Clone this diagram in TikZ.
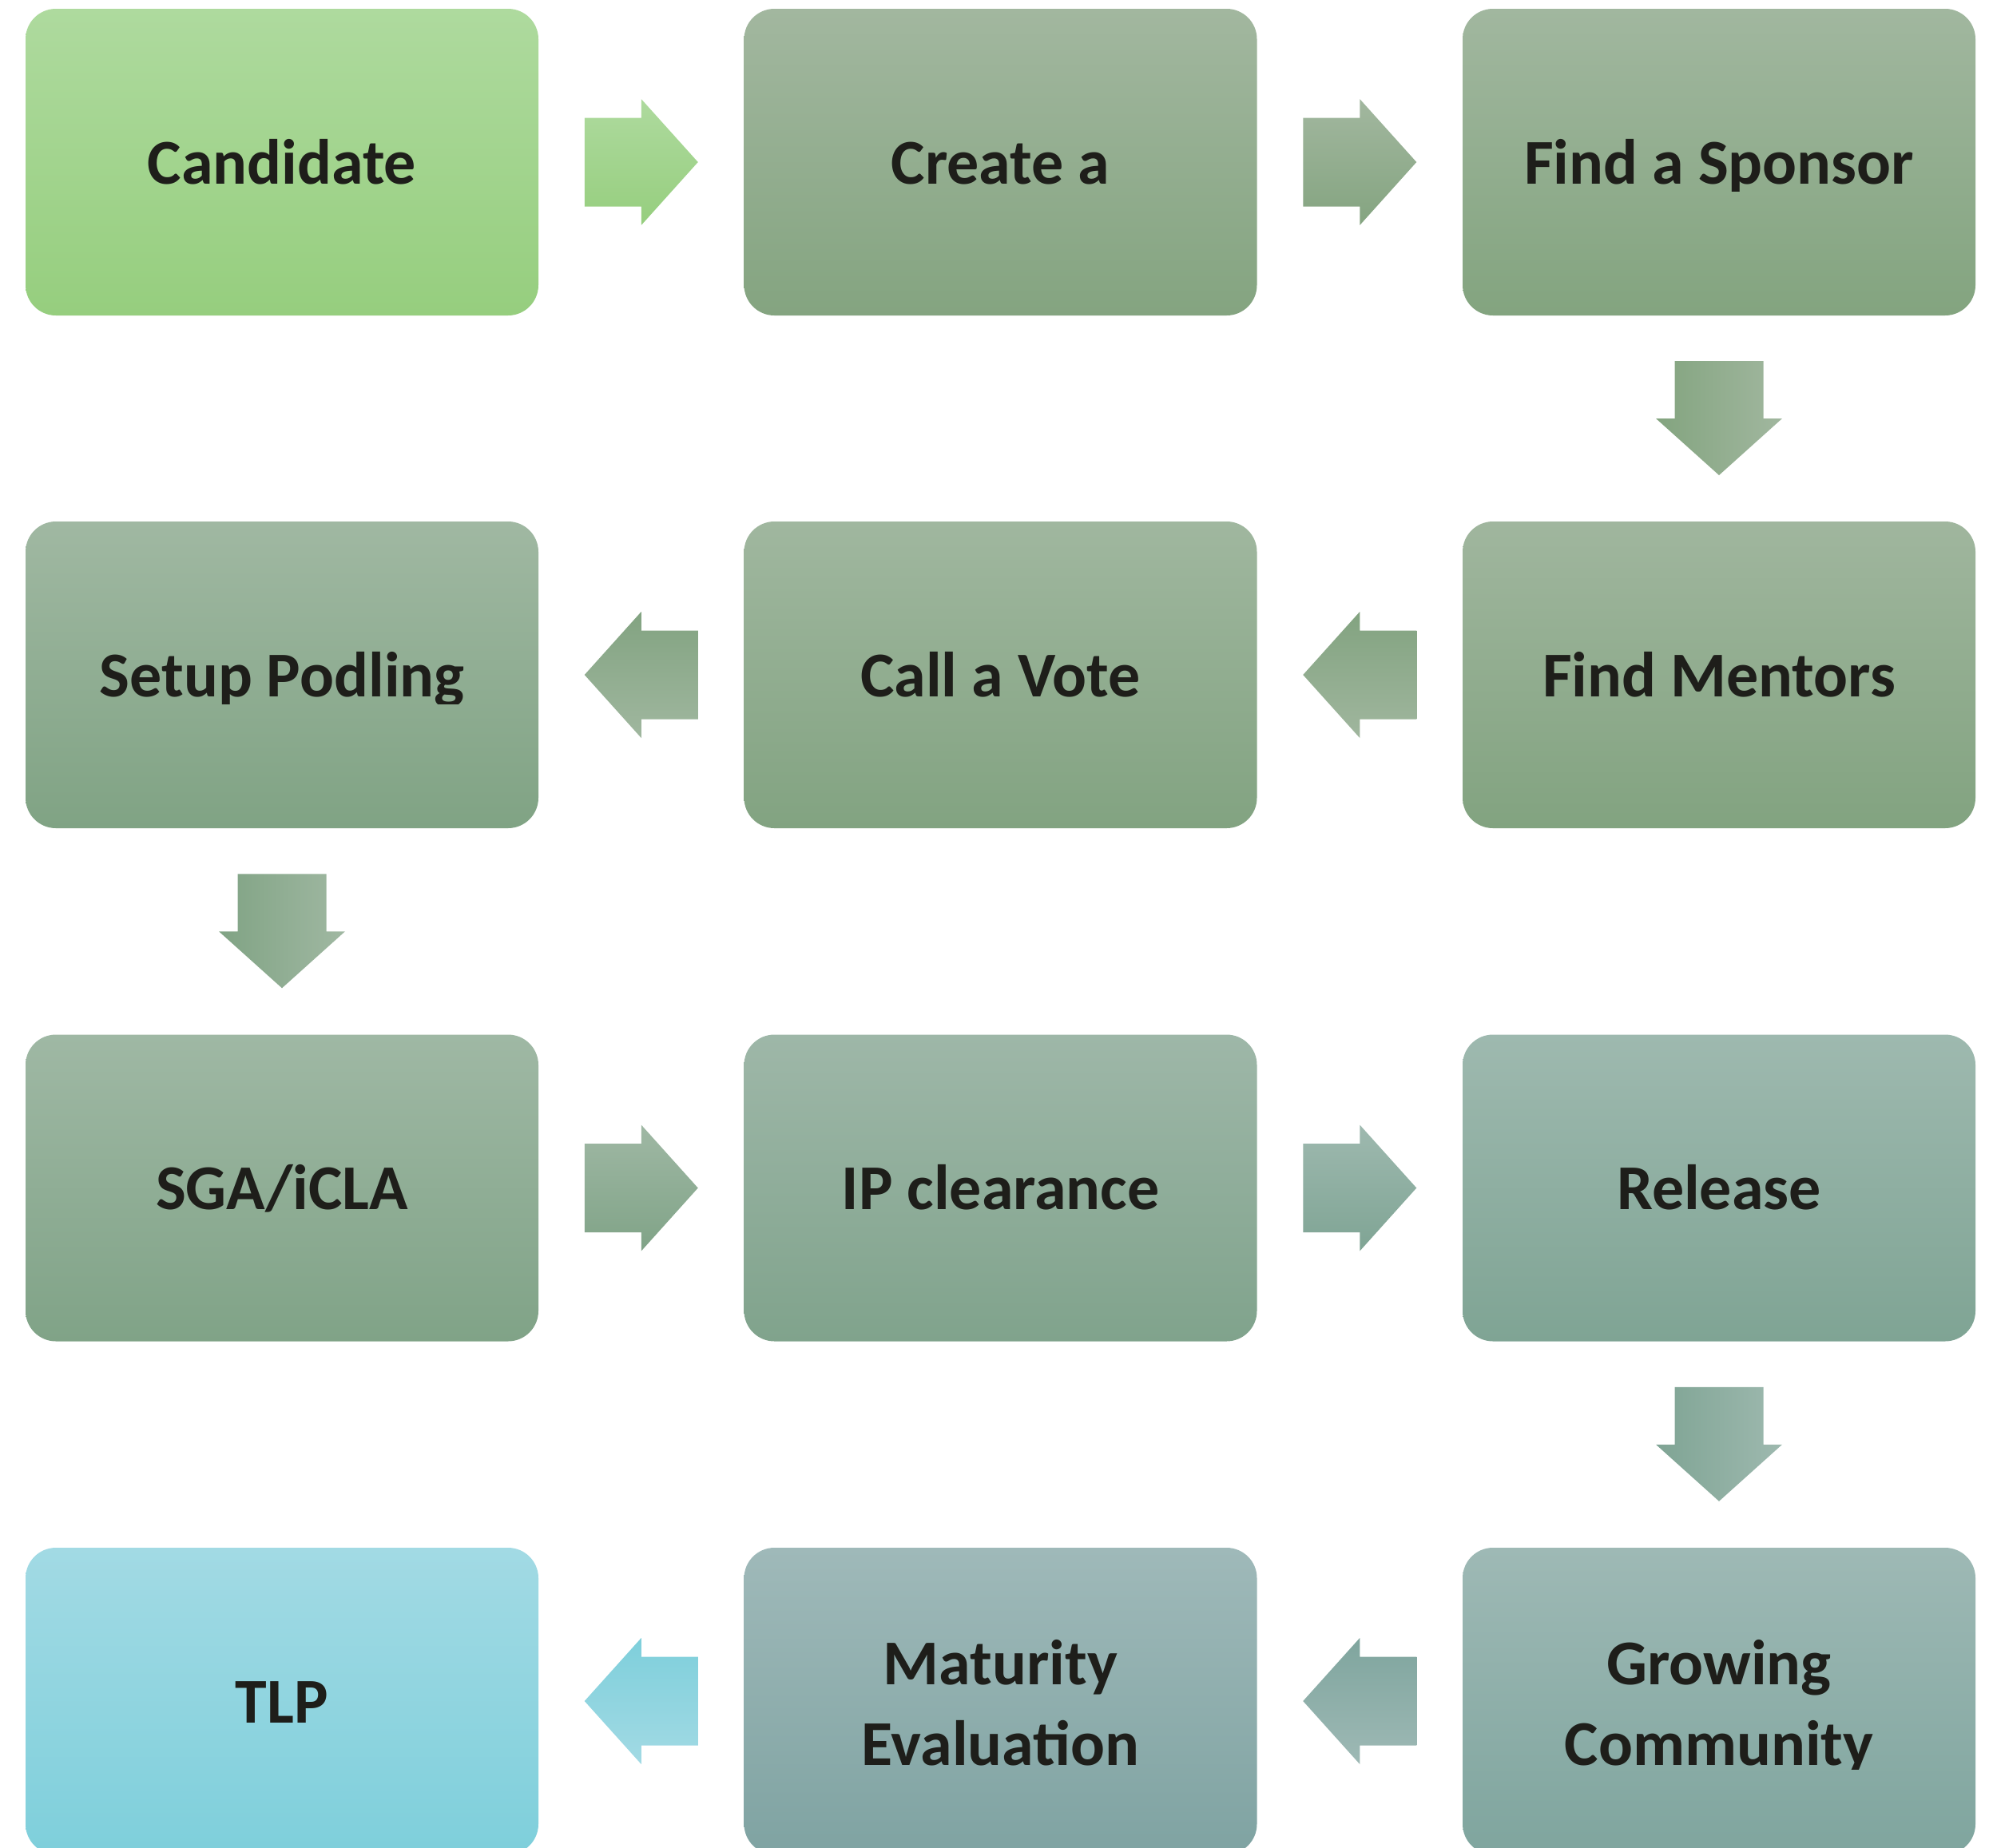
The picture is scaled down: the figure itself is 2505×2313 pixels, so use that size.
\documentclass[tikz,border=0pt]{standalone}
\usepackage{fontspec}
\setmainfont{Carlito}
\usetikzlibrary{calc}
\definecolor{txt}{HTML}{1E1E1A}
\definecolor{t1}{HTML}{AEDA9E}\definecolor{u1}{HTML}{96CE7E}
\definecolor{t2}{HTML}{A2B79F}\definecolor{u2}{HTML}{84A480}
\definecolor{t3}{HTML}{A1B79F}\definecolor{u3}{HTML}{83A47F}
\definecolor{t4}{HTML}{A0B69E}\definecolor{u4}{HTML}{82A380}
\definecolor{t5}{HTML}{A0B79F}\definecolor{u5}{HTML}{82A381}
\definecolor{t6}{HTML}{A0B8A2}\definecolor{u6}{HTML}{80A384}
\definecolor{t7}{HTML}{9FB8A4}\definecolor{u7}{HTML}{80A387}
\definecolor{t8}{HTML}{9EB7A8}\definecolor{u8}{HTML}{80A38C}
\definecolor{t9}{HTML}{9EB9AF}\definecolor{u9}{HTML}{7FA494}
\definecolor{t10}{HTML}{9EB9B5}\definecolor{u10}{HTML}{7FA59E}
\definecolor{t11}{HTML}{9FB9B9}\definecolor{u11}{HTML}{7FA3A2}
\definecolor{t12}{HTML}{A2DAE4}\definecolor{u12}{HTML}{7ECFDB}
\tikzset{
  stepbox/.style={rounded corners=38pt, minimum width=642pt, minimum height=384pt, inner sep=0pt, draw=none},
  lbl/.style={font=\fontsize{80}{101}\selectfont\bfseries, text=txt, align=center, inner sep=0pt, anchor=base},
}
% block arrows centred on a named coordinate
\newcommand\rightblock[3]{\begin{scope}[shift={(#1)}]
  \shade[top color=#2,bottom color=#3] (-71,-55.5) -- (0,-55.5) -- (0,-79) -- (71,0) -- (0,79) -- (0,55.5) -- (-71,55.5) -- cycle;
\end{scope}}
\newcommand\leftblock[3]{\begin{scope}[shift={(#1)}]
  \shade[top color=#2,bottom color=#3] (71,-55.5) -- (0,-55.5) -- (0,-79) -- (-71,0) -- (0,79) -- (0,55.5) -- (71,55.5) -- cycle;
\end{scope}}
\newcommand\downblock[3]{\begin{scope}[shift={(#1)}]
  \shade[left color=#2,right color=#3] (-55.5,-72) -- (55.5,-72) -- (55.5,0) -- (79,0) -- (0,71) -- (-79,0) -- (-55.5,0) -- cycle;
\end{scope}}
\begin{document}
\begin{tikzpicture}[x=1pt,y=-1pt]
\clip (0,0) rectangle (2505,2313);
\fill[white] (0,0) rectangle (2505,2313);
% boxes
\node[stepbox, top color=t1,  bottom color=u1]  (b1)  at (353,203) {};
\node[stepbox, top color=t2,  bottom color=u2]  (b2)  at (1252.5,203) {};
\node[stepbox, top color=t3,  bottom color=u3]  (b3)  at (2152,203) {};
\node[stepbox, top color=t4,  bottom color=u4]  (b4)  at (2152,845) {};
\node[stepbox, top color=t5,  bottom color=u5]  (b5)  at (1252.5,845) {};
\node[stepbox, top color=t6,  bottom color=u6]  (b6)  at (353,845) {};
\node[stepbox, top color=t7,  bottom color=u7]  (b7)  at (353,1487.5) {};
\node[stepbox, top color=t8,  bottom color=u8]  (b8)  at (1252.5,1487.5) {};
\node[stepbox, top color=t9,  bottom color=u9]  (b9)  at (2152,1487.5) {};
\node[stepbox, top color=t10, bottom color=u10] (b10) at (2152,2130) {};
\node[stepbox, top color=t11, bottom color=u11] (b11) at (1252.5,2130) {};
\node[stepbox, top color=t12, bottom color=u12] (b12) at (353,2130) {};
% labels (descenders clipped as in the original)
\begin{scope}\clip (0,0) rectangle (2505,239);
\node[lbl] (l1) at ($(b1.center)+(0,27)$) {Candidate};
\node[lbl] (l2) at ($(b2.center)+(0,27)$) {Create a};
\node[lbl] (l3) at ($(b3.center)+(0,27)$) {Find a Sponsor};
\end{scope}
\begin{scope}\clip (0,400) rectangle (2505,881);
\node[lbl] (l4) at ($(b4.center)+(0,27)$) {Find Mentors};
\node[lbl] (l5) at ($(b5.center)+(0,27)$) {Call a Vote};
\node[lbl] (l6) at ($(b6.center)+(0,27)$) {Setup Podling};
\end{scope}
\begin{scope}\clip (0,1200) rectangle (2505,1524);
\node[lbl] (l7) at ($(b7.center)+(0,27)$) {SGA/iCLA};
\node[lbl] (l8) at ($(b8.center)+(0,27)$) {IP clearance};
\node[lbl] (l9) at ($(b9.center)+(0,27)$) {Release};
\end{scope}
\begin{scope}\clip (0,1900) rectangle (2505,2215);
\node[lbl] (l10) at ($(b10.center)+(0,80)$) {Growing\\Community};
\node[lbl] (l11) at ($(b11.center)+(0,80)$) {Maturity\\Evaluation};
\node[lbl] (l12) at ($(b12.center)+(0,27)$) {TLP};
\end{scope}
% arrow positions
\coordinate (a1)  at ($(b1.east)!0.5!(b2.west)$);
\coordinate (a2)  at ($(b2.east)!0.5!(b3.west)$);
\coordinate (a3)  at ($(b3.south)!0.5!(b4.north)$);
\coordinate (a4)  at ($(b4.west)!0.5!(b5.east)$);
\coordinate (a5)  at ($(b5.west)!0.5!(b6.east)$);
\coordinate (a6)  at ($(b6.south)!0.5!(b7.north)$);
\coordinate (a7)  at ($(b7.east)!0.5!(b8.west)$);
\coordinate (a8)  at ($(b8.east)!0.5!(b9.west)$);
\coordinate (a9)  at ($(b9.south)!0.5!(b10.north)$);
\coordinate (a10) at ($(b10.west)!0.5!(b11.east)$);
\coordinate (a11) at ($(b11.west)!0.5!(b12.east)$);
\rightblock{a1}{t1}{u1}
\rightblock{a2}{t2}{u2}
\downblock{a3}{u3}{t3}
\leftblock{a4}{u4}{t4}
\leftblock{a5}{u5}{t5}
\downblock{a6}{u6}{t6}
\rightblock{a7}{t7}{u7}
\rightblock{a8}{t9}{u9}
\downblock{a9}{u9}{t9}
\leftblock{a10}{u10}{t10}
\leftblock{a11}{u12}{t12}
\end{tikzpicture}
\end{document}
